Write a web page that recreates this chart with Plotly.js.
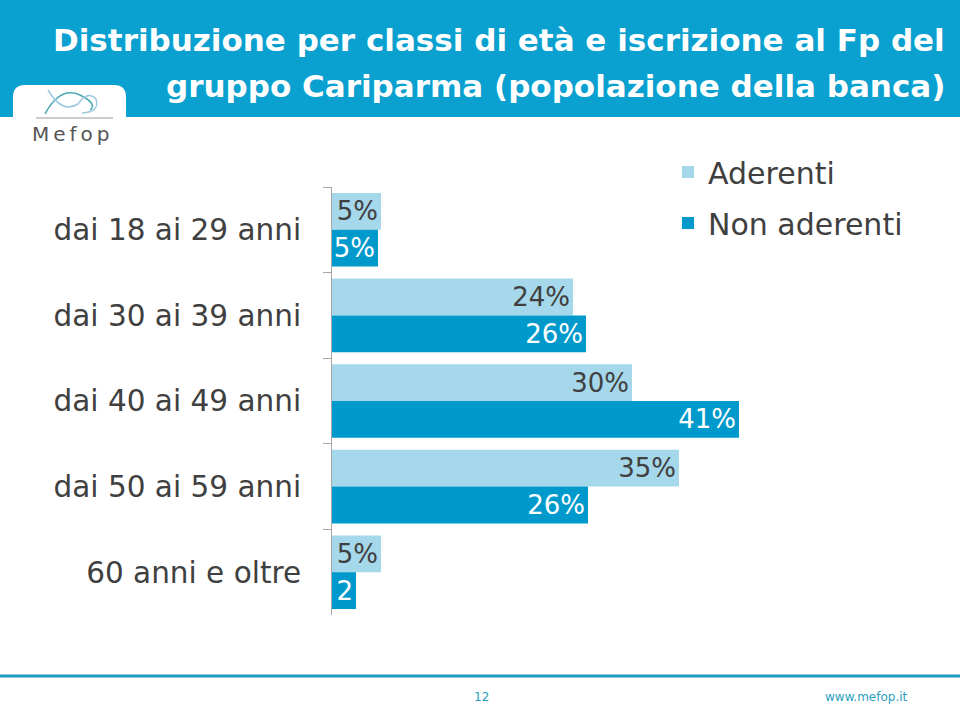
<!DOCTYPE html>
<html>
<head>
<meta charset="utf-8">
<script src="https://cdn.plot.ly/plotly-3.0.1.min.js"></script>
<style>
  body { margin: 0; background: #fff; }
  #chart { width: 960px; height: 707px; }
</style>
</head>
<body>
<div id="chart"></div>
<script>
// classi di età
var classi = ["dai 18 ai 29 anni", "dai 30 ai 39 anni", "dai 40 ai 49 anni", "dai 50 ai 59 anni", "60 anni e oltre"];

// valori in %
var aderenti = [4.9, 24.1, 30.0, 34.7, 4.9];
var nonAderenti = [4.6, 25.4, 40.7, 25.6, 2.4];

// etichette come appaiono sulle barre
var etichetteAderenti = ["5%", "24%", "30%", "35%", "5%"];
var etichetteNonAderenti = ["5%", "26%", "41%", "26%", "2"];

// area del grafico in pixel
var L = 332, R = 882, T = 187, B = 615;
var W = R - L, H = B - T;
function px(x) { return (x - L) / W; }
function py(y) { return (B - y) / H; }

var font = "'DejaVu Sans', sans-serif";
var testo = "#404040";

var trace1 = {
  name: "Aderenti",
  type: "bar",
  orientation: "h",
  y: classi,
  x: aderenti,
  text: etichetteAderenti,
  textposition: "inside",
  insidetextanchor: "end",
  constraintext: "none",
  textangle: 0,
  insidetextfont: { family: font, size: 26, color: testo },
  marker: { color: "#a6d8ec" },
  hoverinfo: "skip",
  legendgroup: "a"
};

var trace2 = {
  name: "Non aderenti",
  type: "bar",
  orientation: "h",
  y: classi,
  x: nonAderenti,
  text: etichetteNonAderenti,
  textposition: "inside",
  insidetextanchor: "end",
  constraintext: "none",
  textangle: 0,
  insidetextfont: { family: font, size: 26, color: "#ffffff" },
  marker: { color: "#0099cc" },
  hoverinfo: "skip",
  legendgroup: "b"
};

// barra del titolo, linguetta del logo, linea in fondo
var shapes = [
  { type: "rect", xref: "paper", yref: "paper", x0: px(0), x1: px(960), y0: py(0), y1: py(117),
    fillcolor: "#0aa0cf", line: { width: 0 }, layer: "below" },
  { type: "path", xref: "paper", yref: "paper",
    path: "M" + px(13) + "," + py(150) + " L" + px(13) + "," + py(97) +
          " Q" + px(13) + "," + py(85) + " " + px(25) + "," + py(85) +
          " L" + px(114) + "," + py(85) +
          " Q" + px(126) + "," + py(85) + " " + px(126) + "," + py(97) +
          " L" + px(126) + "," + py(150) + " Z",
    fillcolor: "#ffffff", line: { width: 0 } },
  { type: "path", xref: "paper", yref: "paper",
    path: "M" + px(45) + "," + py(114) + " Q" + px(60) + "," + py(86) + " " + px(80) + "," + py(95) +
          " Q" + px(98) + "," + py(104) + " " + px(90) + "," + py(110),
    line: { color: "#4fa9b4", width: 1.5 } },
  { type: "path", xref: "paper", yref: "paper",
    path: "M" + px(48) + "," + py(90) + " Q" + px(62) + "," + py(114) + " " + px(78) + "," + py(104) +
          " Q" + px(88) + "," + py(90) + " " + px(96) + "," + py(99) +
          " Q" + px(100) + "," + py(112) + " " + px(82) + "," + py(113),
    line: { color: "#9cc9dc", width: 1.5 } },
  { type: "line", xref: "paper", yref: "paper", x0: px(36), x1: px(113), y0: py(118), y1: py(118),
    line: { color: "#9a9a9a", width: 1 } },
  { type: "line", xref: "paper", yref: "paper", x0: px(0), x1: px(960), y0: py(676), y1: py(676),
    line: { color: "#1d9cc4", width: 3 } }
];

var annotations = [
  { xref: "paper", yref: "paper", x: px(947), y: py(40), xanchor: "right", yanchor: "middle",
    text: "Distribuzione per classi di età e iscrizione al Fp del", showarrow: false,
    font: { family: font, size: 31, color: "#ffffff", weight: "bold" } },
  { xref: "paper", yref: "paper", x: px(947), y: py(86), xanchor: "right", yanchor: "middle",
    text: "gruppo Cariparma (popolazione della banca)", showarrow: false,
    font: { family: font, size: 31, color: "#ffffff", weight: "bold" } },
  { xref: "paper", yref: "paper", x: px(71), y: py(134), xanchor: "center", yanchor: "middle",
    text: "M\u2009e\u2009f\u2009o\u2009p", showarrow: false,
    font: { family: font, size: 20, color: "#555555" } },
  { xref: "paper", yref: "paper", x: px(481), y: py(697), xanchor: "center", yanchor: "middle",
    text: "12", showarrow: false, font: { family: font, size: 12, color: "#2a9fc0" } },
  { xref: "paper", yref: "paper", x: px(866), y: py(697), xanchor: "center", yanchor: "middle",
    text: "www.mefop.it", showarrow: false, font: { family: font, size: 12, color: "#2a9fc0" } }
];

var layout = {
  width: 960,
  height: 707,
  margin: { l: L, r: 960 - R, t: T, b: 707 - B, pad: 0 },
  paper_bgcolor: "#ffffff",
  plot_bgcolor: "#ffffff",
  barmode: "group",
  bargap: 0.14,
  bargroupgap: 0,
  showlegend: true,
  legend: {
    x: px(668), y: py(146), xanchor: "left", yanchor: "top",
    font: { family: font, size: 30, color: testo },
    traceorder: "grouped",
    tracegroupgap: 9,
    bgcolor: "rgba(0,0,0,0)"
  },
  xaxis: {
    range: [0, 55],
    visible: false,
    fixedrange: true
  },
  yaxis: {
    autorange: "reversed",
    showline: true,
    linecolor: "#a6a6a6",
    linewidth: 1,
    ticks: "outside",
    tickson: "boundaries",
    ticklen: 8,
    tickcolor: "#a6a6a6",
    ticklabelstandoff: 24,
    showgrid: false,
    zeroline: false,
    tickfont: { family: font, size: 29.5, color: testo },
    fixedrange: true
  },
  shapes: shapes,
  annotations: annotations
};

Plotly.newPlot("chart", [trace1, trace2], layout, { displayModeBar: false, staticPlot: true });
</script>
</body>
</html>
